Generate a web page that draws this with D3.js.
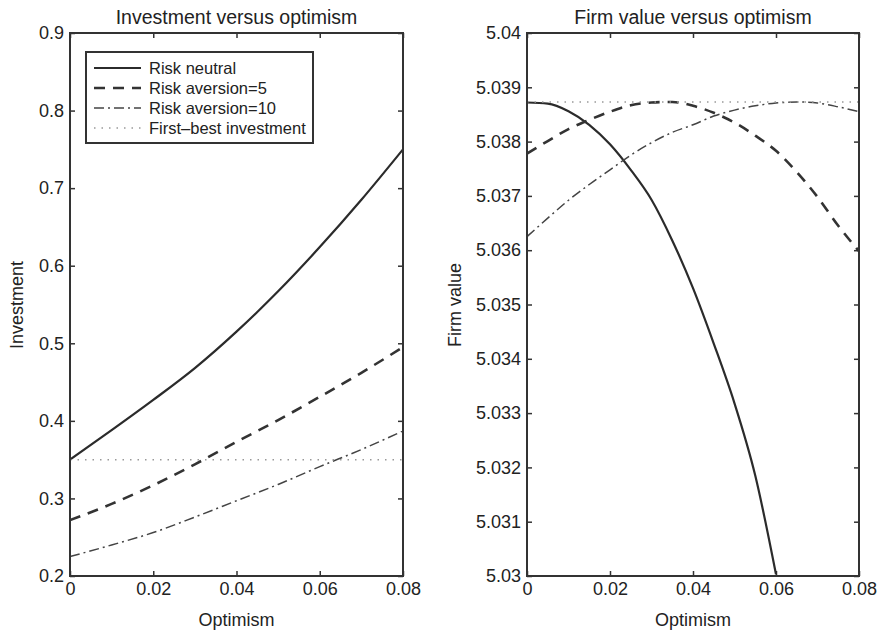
<!DOCTYPE html>
<html>
<head>
<meta charset="utf-8">
<script src="https://cdn.jsdelivr.net/npm/d3@7"></script>
<style>
  body { margin: 0; background: #fff; }
  text { font-family: 'Liberation Sans', Arial, Helvetica, sans-serif; fill: #222; }
</style>
</head>
<body>
<script>
// values
var optimism = [0, 0.01, 0.02, 0.03, 0.04, 0.05, 0.06, 0.07, 0.08];
var invRiskNeutral = [0.35, 0.388, 0.427, 0.468, 0.515, 0.567, 0.624, 0.685, 0.75];
var invRiskAversion5 = [0.272, 0.293, 0.317, 0.344, 0.373, 0.401, 0.431, 0.462, 0.495];
var invRiskAversion10 = [0.225, 0.24, 0.256, 0.276, 0.297, 0.318, 0.341, 0.363, 0.387];
var firstBestInvestment = 0.35;

var optimismFine = [0, 0.005, 0.01, 0.015, 0.02, 0.025, 0.03, 0.035, 0.04,
                    0.045, 0.05, 0.055, 0.06, 0.065, 0.07, 0.075, 0.08];
var valRiskNeutral = [5.03872, 5.0387, 5.03856, 5.03831, 5.03795, 5.03748, 5.03693,
                      5.03618, 5.0353, 5.03428, 5.03318, 5.03185, 5.03003];
var valRiskAversion5 = [5.03778, 5.03801, 5.03823, 5.0384, 5.03855, 5.03867, 5.03872, 5.03873,
                        5.03866, 5.03853, 5.03835, 5.03811, 5.03783, 5.03744, 5.03698, 5.03645, 5.03598];
var valRiskAversion10 = [5.03625, 5.03659, 5.03692, 5.03721, 5.03748, 5.03775, 5.03798, 5.03817,
                         5.03831, 5.03847, 5.03858, 5.03866, 5.03871, 5.03873, 5.03871, 5.03864, 5.03855];
var firstBestValue = 5.03873;

var xTicks = [0, 0.02, 0.04, 0.06, 0.08];
var invTicks = [0.2, 0.3, 0.4, 0.5, 0.6, 0.7, 0.8, 0.9];
var valTicks = [5.03, 5.031, 5.032, 5.033, 5.034, 5.035, 5.036, 5.037, 5.038, 5.039, 5.04];

var legendLabels = ['Risk neutral', 'Risk aversion=5', 'Risk aversion=10', 'First\u2013best investment'];

var styles = [
  { stroke: '#2b2b2b', width: 2.2, dash: null },
  { stroke: '#333', width: 2.6, dash: '11,8' },
  { stroke: '#444', width: 1.5, dash: '10,4,2,4' },
  { stroke: '#999', width: 1.5, dash: '1.5,6' }
];

var width = 880, height = 632;

var svg = d3.select('body')
  .append('svg')
    .attr('width', width)
    .attr('height', height)
    .style('background', '#fff');

var xFmt = function (d) { return d === 0 ? '0' : d3.format('.2f')(d); };

function panel(opts) {
  var x = d3.scaleLinear().domain([0, 0.08]).range([opts.left, opts.right]);
  var y = d3.scaleLinear().domain(opts.yDomain).range([576, 33]);

  var g = svg.append('g');

  g.append('clipPath').attr('id', opts.id)
    .append('rect')
      .attr('x', opts.left).attr('y', 33)
      .attr('width', opts.right - opts.left).attr('height', 576 - 33);

  // axes, ticks pointing inward
  var axes = [
    { ax: d3.axisBottom(x).tickValues(xTicks).tickFormat(xFmt), t: 'translate(0,576)', lab: true },
    { ax: d3.axisTop(x).tickValues(xTicks).tickFormat(''), t: 'translate(0,33)', lab: false },
    { ax: d3.axisLeft(y).tickValues(opts.yTicks).tickFormat(opts.yFmt), t: 'translate(' + opts.left + ',0)', lab: true },
    { ax: d3.axisRight(y).tickValues(opts.yTicks).tickFormat(''), t: 'translate(' + opts.right + ',0)', lab: false }
  ];
  axes.forEach(function (a) {
    var ag = g.append('g')
      .attr('transform', a.t)
      .call(a.ax.tickSizeInner(-5).tickSizeOuter(0).tickPadding(a.lab ? 6 : 0));
    ag.select('.domain').remove();
    ag.selectAll('line').attr('stroke', '#333').attr('stroke-width', 1.5);
    ag.selectAll('text').attr('font-size', 18).attr('fill', '#222')
      .style('font-family', "'Liberation Sans', Arial, sans-serif");
  });

  var line = d3.line()
      .x(function (d) { return x(d[0]); })
      .y(function (d) { return y(d[1]); })
      .curve(d3.curveMonotoneX);

  var plot = g.append('g').attr('clip-path', 'url(#' + opts.id + ')');

  opts.series.forEach(function (s, i) {
    var st = styles[i];
    plot.append('path')
      .attr('d', line(s))
      .attr('fill', 'none')
      .attr('stroke', st.stroke)
      .attr('stroke-width', st.width)
      .attr('stroke-dasharray', st.dash);
  });

  // frame
  g.append('rect')
    .attr('x', opts.left).attr('y', 33)
    .attr('width', opts.right - opts.left).attr('height', 576 - 33)
    .attr('fill', 'none').attr('stroke', '#333').attr('stroke-width', 2);

  g.append('text')
    .attr('x', (opts.left + opts.right) / 2).attr('y', 17)
    .attr('text-anchor', 'middle').attr('dominant-baseline', 'central')
    .attr('font-size', 19.5)
    .text(opts.title);

  g.append('text')
    .attr('x', (opts.left + opts.right) / 2).attr('y', 620)
    .attr('text-anchor', 'middle').attr('dominant-baseline', 'central')
    .attr('font-size', 18)
    .text('Optimism');

  g.append('text')
    .attr('transform', 'translate(' + opts.yLabelX + ',305) rotate(-90)')
    .attr('text-anchor', 'middle').attr('dominant-baseline', 'central')
    .attr('font-size', 18)
    .text(opts.yLabel);

  return { x: x, y: y, g: g };
}

function zip(xs, ys) {
  return ys.map(function (v, i) { return [xs[i], v]; });
}

var left = panel({
  id: 'clipL', left: 70, right: 403,
  yDomain: [0.2, 0.9], yTicks: invTicks, yFmt: d3.format('.1f'),
  title: 'Investment versus optimism', yLabel: 'Investment', yLabelX: 17,
  series: [
    zip(optimism, invRiskNeutral),
    zip(optimism, invRiskAversion5),
    zip(optimism, invRiskAversion10),
    [[0, firstBestInvestment], [0.08, firstBestInvestment]]
  ]
});

var right = panel({
  id: 'clipR', left: 527, right: 859,
  yDomain: [5.03, 5.04], yTicks: valTicks, yFmt: function (d) { return String(+d.toFixed(3)); },
  title: 'Firm value versus optimism', yLabel: 'Firm value', yLabelX: 455,
  series: [
    zip(optimismFine, valRiskNeutral),
    zip(optimismFine, valRiskAversion5),
    zip(optimismFine, valRiskAversion10),
    [[0, firstBestValue], [0.08, firstBestValue]]
  ]
});

// legend in the left panel
var legend = svg.append('g');
legend.append('rect')
  .attr('x', 86).attr('y', 52).attr('width', 227).attr('height', 91)
  .attr('fill', '#fff').attr('stroke', '#333').attr('stroke-width', 2);

legendLabels.forEach(function (lab, i) {
  var st = styles[i];
  var ly = 68 + i * 20;
  legend.append('line')
    .attr('x1', 94).attr('x2', 141).attr('y1', ly).attr('y2', ly)
    .attr('stroke', st.stroke)
    .attr('stroke-width', st.width)
    .attr('stroke-dasharray', st.dash);
  legend.append('text')
    .attr('x', 149).attr('y', ly)
    .attr('dominant-baseline', 'central')
    .attr('font-size', 16.5)
    .text(lab);
});
</script>
</body>
</html>
